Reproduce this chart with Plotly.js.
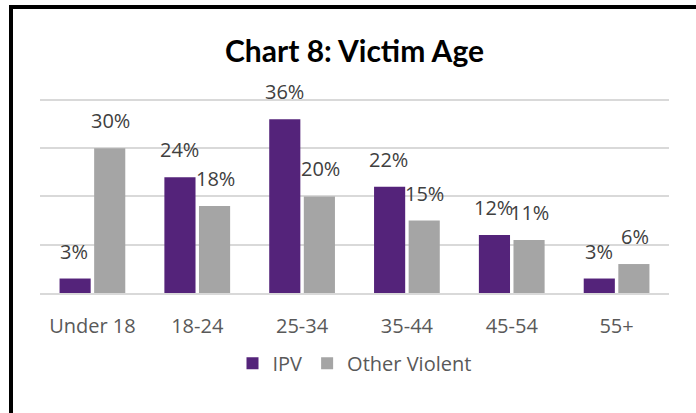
<!DOCTYPE html>
<html>
<head>
<meta charset="utf-8">
<script src="https://cdn.plot.ly/plotly-3.0.1.min.js"></script>
<style>
  body { margin: 0; background: #fff; }
  #frame { position: absolute; left: 0; top: 0; width: 696px; height: 413px; }
  #edge { position: absolute; left: 9px; top: 5px; right: 0; bottom: 0;
          border-left: 4px solid #000; border-top: 4px solid #000; pointer-events: none; }
</style>
</head>
<body>
<div id="frame"></div>
<div id="edge"></div>
<script>
const ageGroups = ['Under 18', '18-24', '25-34', '35-44', '45-54', '55+'];
const ipvPct = [3, 24, 36, 22, 12, 3];
const otherPct = [30, 18, 20, 15, 11, 6];

const labelFont = { family: 'Open Sans, sans-serif', size: 20, color: '#404040' };

const ipv = {
  x: ageGroups,
  y: ipvPct,
  name: 'IPV',
  type: 'bar',
  marker: { color: '#54237A' }
};

const other = {
  x: ageGroups,
  y: otherPct,
  name: 'Other Violent',
  type: 'bar',
  marker: { color: '#A5A5A5' }
};

// value labels above each bar, shifted onto the bar inside its group
function valueLabels(values, shift) {
  return ageGroups.map((g, i) => ({
    x: g,
    y: values[i],
    text: values[i] + '%',
    showarrow: false,
    xshift: shift,
    yshift: 12,
    yanchor: 'bottom',
    font: labelFont
  }));
}

const layout = {
  width: 696,
  height: 413,
  margin: { l: 40, r: 27, t: 98, b: 120 },
  paper_bgcolor: 'rgba(0,0,0,0)',
  plot_bgcolor: 'rgba(0,0,0,0)',
  title: {
    text: '<b>Chart 8: Victim Age</b>',
    font: { family: 'Lato, sans-serif', size: 30, color: '#000' },
    x: 0.5,
    xanchor: 'center',
    xref: 'paper',
    y: 0.875,
    yanchor: 'middle'
  },
  barmode: 'group',
  bargap: 0.34,
  bargroupgap: 0.1,
  xaxis: {
    tickfont: { family: 'Open Sans, sans-serif', size: 20, color: '#595959' },
    showline: true,
    linecolor: '#D9D9D9',
    linewidth: 2,
    ticks: '',
    ticklabelstandoff: 14
  },
  yaxis: {
    range: [0, 40.4],
    tickvals: [10, 20, 30, 40],
    showticklabels: false,
    gridcolor: '#D9D9D9',
    gridwidth: 2,
    zeroline: false
  },
  annotations: valueLabels(ipvPct, -18).concat(valueLabels(otherPct, 18)),
  showlegend: true,
  legend: {
    orientation: 'h',
    x: 0.5,
    xanchor: 'center',
    y: -0.26,
    yanchor: 'top',
    font: { family: 'Open Sans, sans-serif', size: 20, color: '#595959' },
    itemwidth: 30
  }
};

Plotly.newPlot('frame', [ipv, other], layout, { displayModeBar: false, staticPlot: true });
</script>
</body>
</html>
